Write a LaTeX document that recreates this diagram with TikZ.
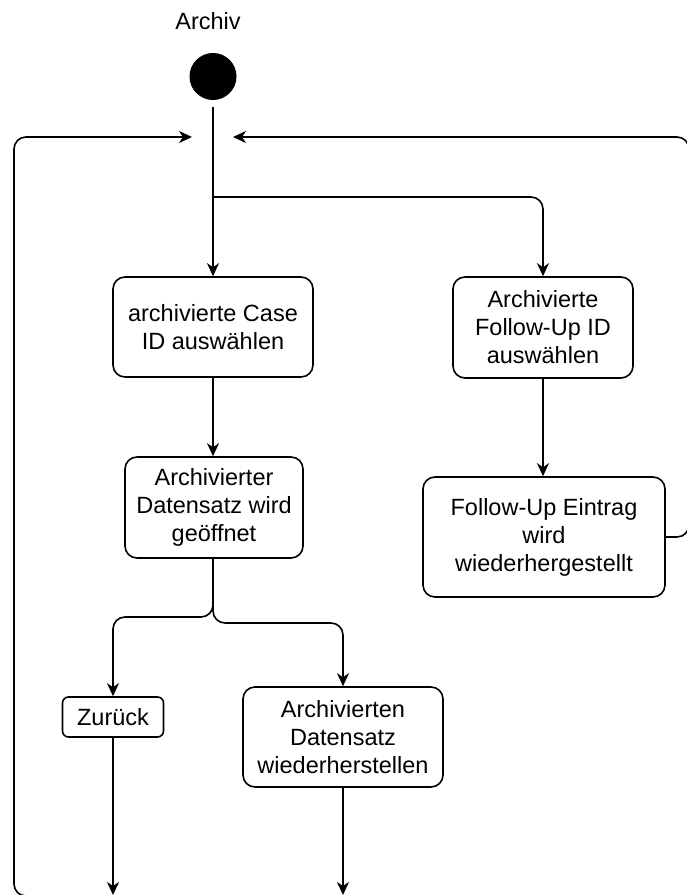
\documentclass[tikz,border=0pt]{standalone}
\usepackage{fontspec}
\setmainfont{Liberation Sans}
\usetikzlibrary{arrows.meta}
\begin{document}
\begin{tikzpicture}[x=1pt,y=-1pt,
  line width=1.6pt,
  every node/.style={font=\fontsize{23.5}{28}\selectfont},
  activity/.style={draw, rounded corners=12pt, align=center, inner sep=0pt},
  flow/.style={-{Stealth[length=13pt,width=12pt,inset=4pt]}, rounded corners=12pt},
  startdot/.style={circle, fill=black, draw=none, minimum size=47pt, inner sep=0pt}]
\useasboundingbox (0,0) rectangle (687,895);
\clip (0,0) rectangle (687,895);

% start state and its label
\node[inner sep=0pt] (archlabel) at (208,21) {Archiv};
\node[startdot] (start) at (213,76.5) {};

% activities
\node[activity, minimum width=200pt, minimum height=100pt] (caseid) at (213,327)
  {archivierte Case\\ID auswählen};
\node[activity, minimum width=180pt, minimum height=101pt] (fuid) at (543,327.5)
  {Archivierte\\Follow-Up ID\\auswählen};
\node[activity, minimum width=242pt, minimum height=120pt] (fueintrag) at (544,537)
  {Follow-Up Eintrag\\wird\\wiederhergestellt};
\node[activity, minimum width=178pt, minimum height=101pt] (geoeffnet) at (214,507.5)
  {Archivierter\\Datensatz wird\\geöffnet};
\node[activity, minimum width=101pt, minimum height=40pt, rounded corners=6pt] (zurueck) at (113,717)
  {Zurück};
\node[activity, minimum width=200pt, minimum height=100pt] (wieder) at (343,737)
  {Archivierten\\Datensatz\\wiederherstellen};

% loose ends of the connectors
\coordinate (lefttip) at (192,137);
\coordinate (righttip) at (233,137);
\coordinate (zend) at (113,895);
\coordinate (wend) at (343,895);
\coordinate (loopstart) at (34,896);

% connectors
\draw[flow, shorten <=6pt] (start.south) -- (caseid.north);
\draw[flow] (213,197) -- (543,197) -- (fuid.north);
\draw[flow] (caseid.south) -- (geoeffnet.north -| caseid.south);
\draw[flow] (fuid.south) -- (fuid.south |- fueintrag.north);
\draw[flow] (geoeffnet.south -| 213,0) -- (213,617) -- (zurueck.center |- 0,617) -- (zurueck.north);
\draw[flow] (geoeffnet.south -| 213,0) -- (213,623) -- (wieder.center |- 0,623) -- (wieder.north);
\draw[flow] (zurueck.south) -- (zend);
\draw[flow] (wieder.south) -- (wend);
\draw[flow] (loopstart) -- (14,896) -- (14,137) -- (lefttip);
\draw[flow] (fueintrag.east) -- (689,537) -- (689,137) -- (righttip);
\end{tikzpicture}
\end{document}
